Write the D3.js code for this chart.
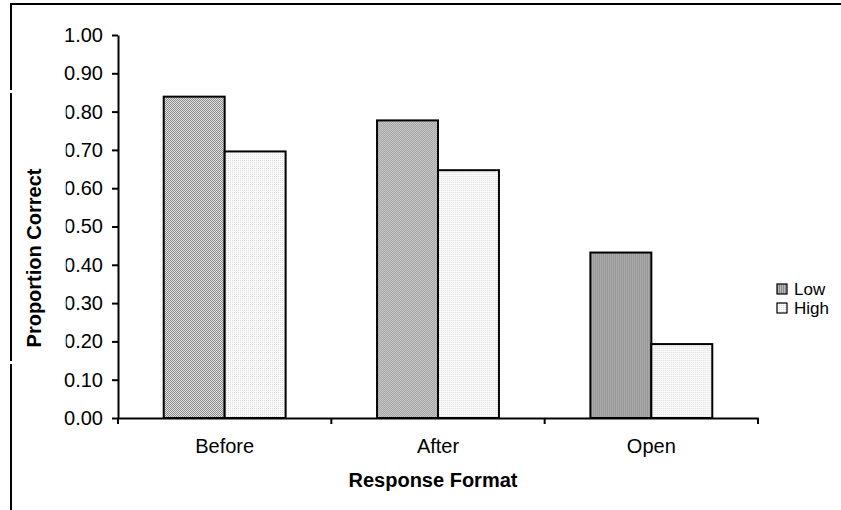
<!DOCTYPE html>
<html>
<head>
<meta charset="utf-8">
<script src="https://cdn.jsdelivr.net/npm/d3@7"></script>
<style>
  html, body { margin: 0; padding: 0; background: #fff; }
  svg { display: block; font-family: Arial, "Liberation Sans", sans-serif; }
</style>
</head>
<body>
<svg id="chart" width="841" height="510"></svg>
<script>
// Proportion correct by response format and group
const categories = ["Before", "After", "Open"];
const seriesNames = ["Low", "High"];
const lowValues = [0.839, 0.777, 0.432];
const highValues = [0.696, 0.647, 0.193];
const yTicks = [0, 0.1, 0.2, 0.3, 0.4, 0.5, 0.6, 0.7, 0.8, 0.9, 1.0];

const svg = d3.select("#chart");
const W = 841, H = 510;
const plot = { left: 118, right: 758, top: 35, bottom: 418 };

// Fill patterns
const defs = svg.append("defs");
function pattern(id, w, h, cells, bg) {
  const p = defs.append("pattern").attr("id", id)
    .attr("patternUnits", "userSpaceOnUse").attr("width", w).attr("height", h);
  p.append("rect").attr("width", w).attr("height", h).attr("fill", bg);
  cells.forEach(c => p.append("rect").attr("x", c[0]).attr("y", c[1])
    .attr("width", c[2]).attr("height", c[3]).attr("fill", c[4]));
}
pattern("checker", 2, 2, [[0, 0, 1, 1, "#888"], [1, 1, 1, 1, "#888"]], "#e4e4e4");
pattern("dots", 2, 2, [[0, 0, 1, 1, "#dcdcdc"]], "#fbfbfb");
pattern("stripes", 2, 2, [[0, 0, 1, 2, "#8a8a8a"]], "#b8b8b8");

const lowFill = ["url(#checker)", "url(#checker)", "url(#stripes)"];
const highFill = ["url(#dots)", "url(#dots)", "url(#dots)"];

const x = d3.scaleBand().domain(categories).range([plot.left, plot.right]).padding(0);
const xs = d3.scaleBand().domain(seriesNames).range([0, x.bandwidth()])
  .paddingInner(0).paddingOuter(0.75);
const y = d3.scaleLinear().domain([0, 1]).range([plot.bottom, plot.top]);

// Bars
const rows = categories.map((c, i) => ({
  cat: c,
  vals: [
    { s: "Low", v: lowValues[i], fill: lowFill[i] },
    { s: "High", v: highValues[i], fill: highFill[i] }
  ]
}));
const groups = svg.append("g").selectAll("g").data(rows).join("g")
  .attr("transform", d => `translate(${x(d.cat)},0)`);
groups.selectAll("rect").data(d => d.vals).join("rect")
  .attr("x", d => xs(d.s))
  .attr("y", d => y(d.v))
  .attr("width", xs.bandwidth())
  .attr("height", d => y(0) - y(d.v))
  .attr("fill", d => d.fill)
  .attr("stroke", "#000")
  .attr("stroke-width", 2);

// Y axis
const yAxis = svg.append("g").attr("transform", `translate(${plot.left},0)`)
  .call(d3.axisLeft(y).tickValues(yTicks).tickFormat(d3.format(".2f"))
    .tickSize(6).tickSizeOuter(0).tickPadding(9));
yAxis.selectAll("text").attr("font-size", 20).attr("fill", "#000")
  .attr("font-family", "Arial, 'Liberation Sans', sans-serif");
yAxis.selectAll("line, path").attr("stroke", "#000").attr("stroke-width", 2);

// X axis: labels at band centres, ticks at band boundaries
const xAxis = svg.append("g").attr("transform", `translate(0,${plot.bottom})`)
  .call(d3.axisBottom(x).tickSize(0).tickSizeOuter(0).tickPadding(21));
xAxis.selectAll("text").attr("font-size", 20).attr("fill", "#000")
  .attr("font-family", "Arial, 'Liberation Sans', sans-serif");
xAxis.select("path").attr("stroke", "#000").attr("stroke-width", 2);
const bounds = categories.map(c => x(c)).concat([x(categories[categories.length - 1]) + x.bandwidth()]);
xAxis.selectAll("line.bound").data(bounds).join("line").attr("class", "bound")
  .attr("x1", d => d).attr("x2", d => d).attr("y1", 0).attr("y2", 6)
  .attr("stroke", "#000").attr("stroke-width", 2);

// Axis title box (white, slightly translucent over the tick labels)
svg.append("rect").attr("x", 0).attr("y", 91).attr("width", 66).attr("height", 272)
  .attr("fill", "#fff").attr("fill-opacity", 0.72);

// Outer chart frame
svg.append("line").attr("x1", 10).attr("x2", W).attr("y1", 4).attr("y2", 4)
  .attr("stroke", "#000").attr("stroke-width", 2);
svg.append("line").attr("x1", 11).attr("x2", 11).attr("y1", 4).attr("y2", H)
  .attr("stroke", "#000").attr("stroke-width", 2);
[90, 361].forEach(gy => svg.append("rect").attr("x", 0).attr("y", gy)
  .attr("width", 14).attr("height", 3).attr("fill", "#fff"));

// Axis titles
svg.append("text").attr("transform", "translate(41,258) rotate(-90)")
  .attr("text-anchor", "middle").attr("font-size", 20).attr("font-weight", "bold")
  .text("Proportion Correct");
svg.append("text").attr("x", 433).attr("y", 487)
  .attr("text-anchor", "middle").attr("font-size", 20).attr("font-weight", "bold")
  .text("Response Format");

// Legend
const legendFill = { Low: "url(#stripes)", High: "url(#dots)" };
const legend = svg.append("g").selectAll("g").data(seriesNames).join("g")
  .attr("transform", (d, i) => `translate(777,${284 + i * 19})`);
legend.append("rect").attr("width", 10).attr("height", 10)
  .attr("fill", d => legendFill[d]).attr("stroke", "#000").attr("stroke-width", 1.2);
legend.append("text").attr("x", 17).attr("y", 11).attr("font-size", 17)
  .text(d => d);
</script>
</body>
</html>
